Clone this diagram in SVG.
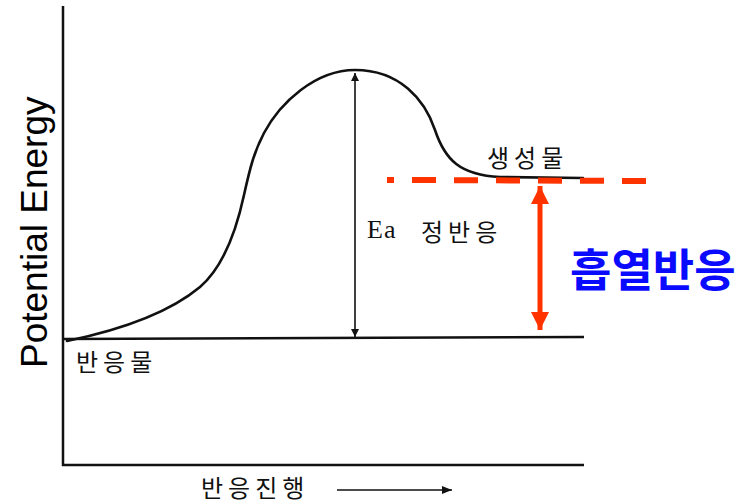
<svg xmlns="http://www.w3.org/2000/svg" width="741" height="504" viewBox="0 0 741 504">
<style>
.ax{stroke:#111;stroke-width:2.5;fill:none}
.curve{stroke:#111;stroke-width:2.6;fill:none;stroke-linecap:round;stroke-linejoin:round}
.thin{stroke:#111;stroke-width:1.6;fill:none}
.red{stroke:#ff3300;fill:none}
.kr{font-family:"Noto Sans CJK KR","Noto Sans CJK SC",sans-serif;font-size:24px;fill:#111;letter-spacing:5px}
.en{font-family:"Liberation Serif",serif;font-size:26px;fill:#111;letter-spacing:1px}
</style>
<defs>
<marker id="blk" viewBox="0 0 10 10" refX="10" refY="5" markerWidth="10" markerHeight="8" markerUnits="userSpaceOnUse" orient="auto-start-reverse">
<path d="M0,0 L10,5 L0,10 z" fill="#111"/>
</marker>
<marker id="redh" viewBox="0 0 10 10" refX="10" refY="5" markerWidth="18" markerHeight="18" markerUnits="userSpaceOnUse" orient="auto-start-reverse">
<path d="M0,0 L10,5 L0,10 z" fill="#ff3300"/>
</marker>
<marker id="xarr" viewBox="0 0 10 10" refX="10" refY="5" markerWidth="18" markerHeight="10" markerUnits="userSpaceOnUse" orient="auto">
<path d="M0,1 L10,5 L0,9 z" fill="#111"/>
</marker>
</defs>
<g id="axes">
<line class="ax" x1="63" y1="6" x2="63" y2="466"/>
<line class="ax" x1="62" y1="465" x2="584" y2="465"/>
<line class="ax" x1="63" y1="339" x2="584" y2="337"/>
</g>
<g id="curve">
<path class="curve" d="M67,341 C120,330 170,312 200,287 C222,268 236,232 244,195 C250,168 254,152 264,133 C280,103 315,70 355,70 C400,70 425,100 435,130 C445,160 460,175 500,177 L583,178"/>
</g>
<g id="connectors">
<line class="thin" x1="355" y1="73" x2="355" y2="337" marker-start="url(#blk)" marker-end="url(#blk)"/>
<line class="red" stroke-width="5" x1="540" y1="186" x2="540" y2="330" marker-start="url(#redh)" marker-end="url(#redh)"/>
<line class="red" stroke-width="6" stroke-dasharray="24 18" x1="412" y1="180" x2="646" y2="181"/>
<line class="red" stroke-width="6" x1="387" y1="180" x2="394" y2="180"/>
<line class="thin" x1="337" y1="490" x2="452" y2="490" marker-end="url(#xarr)"/>
</g>
<g id="labels">
<text transform="translate(47,368) rotate(-90)" font-family="Liberation Sans, Arial, sans-serif" font-size="37" fill="#000">Potential Energy</text>
<text class="kr" x="487" y="167">생성물</text>
<text class="en" x="367" y="238">Ea</text>
<text class="kr" x="421" y="241">정반응</text>
<text class="kr" x="76" y="371">반응물</text>
<text class="kr" x="201" y="497">반응진행</text>
<text x="570" y="287" font-family="Noto Sans CJK KR, sans-serif" font-weight="bold" font-size="45" fill="#0a0aff">흡열반응</text>
</g>
</svg>
